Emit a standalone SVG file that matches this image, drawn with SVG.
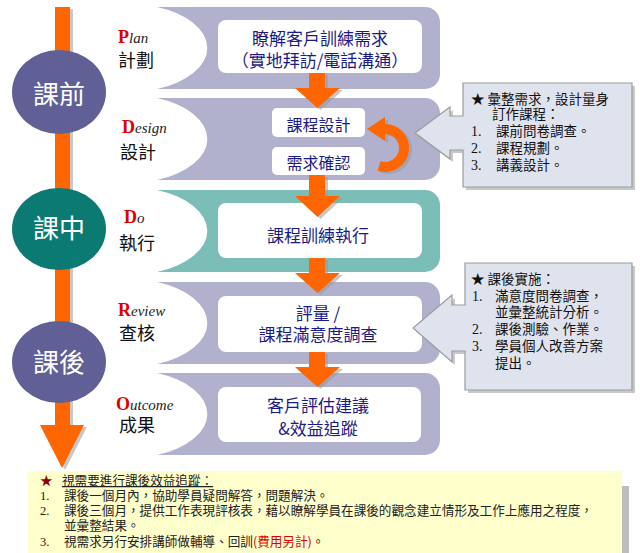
<svg xmlns="http://www.w3.org/2000/svg" width="640" height="553" viewBox="0 0 640 553">
<style>
.lav{fill:#b1b1cd}
.teal{fill:#7bbdb7}
.box{fill:#ffffff}
.nv{font-family:"Noto Sans CJK TC","Noto Sans CJK SC",sans-serif;font-size:17px;fill:#1b1b86;text-anchor:middle}
.lb{font-family:"Noto Sans CJK TC",sans-serif;font-size:18px;fill:#111}
.en{font-family:"Liberation Serif",serif;font-style:italic;font-size:15px;fill:#222}
.cap{font-family:"Liberation Serif",serif;font-style:normal;font-weight:bold;font-size:18px;fill:#e00000}
.ct{font-family:"Noto Sans CJK TC",sans-serif;font-size:26px;fill:#ffffff;text-anchor:middle}
.or{fill:#ff6600}
.sh{fill:#9a9a9a;opacity:0.55}
.co{fill:#dfe3ee;stroke:#9b9b9b;stroke-width:1.2}
.cot{font-family:"Noto Sans CJK TC",sans-serif;font-size:13.5px;fill:#111}
.num{font-family:"Liberation Serif",serif;font-size:14px}
.bt{font-family:"Noto Sans CJK TC",sans-serif;font-size:12.6px;fill:#222}
.bn{font-family:"Liberation Serif",serif;font-size:12.6px}
</style>

<!-- Bands -->
<g id="band-plan">
<path class="lav" d="M157,7 H425 A15,15 0 0 1 440,22 V74 A15,15 0 0 1 425,89 H157 A79,44 0 0 0 157,7 Z"/>
<rect class="box" x="218" y="20" width="204" height="53" rx="8"/>
<text class="nv"><tspan x="320" y="44.5">瞭解客戶訓練需求</tspan><tspan x="320" y="66.5">（實地拜訪/電話溝通）</tspan></text>
</g>
<g id="band-design">
<path class="lav" d="M157,98 H425 A15,15 0 0 1 440,113 V165 A15,15 0 0 1 425,180 H157 A79,44 0 0 0 157,98 Z"/>
<rect class="box" x="272" y="108" width="93" height="29" rx="5"/>
<rect class="box" x="272" y="147" width="93" height="28" rx="5"/>
<text class="nv" x="318.5" y="131" style="font-size:16px">課程設計</text>
<text class="nv" x="318.5" y="169" style="font-size:16px">需求確認</text>
</g>
<g id="band-do">
<path class="teal" d="M157,190 H425 A15,15 0 0 1 440,205 V257 A15,15 0 0 1 425,272 H157 A79,44 0 0 0 157,190 Z"/>
<rect class="box" x="218" y="203" width="204" height="55" rx="8"/>
<text class="nv" x="318" y="241.5">課程訓練執行</text>
</g>
<g id="band-review">
<path class="lav" d="M157,282 H425 A15,15 0 0 1 440,297 V349 A15,15 0 0 1 425,364 H157 A79,44 0 0 0 157,282 Z"/>
<rect class="box" x="218" y="296" width="204" height="56" rx="8"/>
<text class="nv"><tspan x="318" y="319.5">評量 /</tspan><tspan x="318" y="340.5">課程滿意度調查</tspan></text>
</g>
<g id="band-outcome">
<path class="lav" d="M157,373 H425 A15,15 0 0 1 440,388 V440 A15,15 0 0 1 425,455 H157 A79,44 0 0 0 157,373 Z"/>
<rect class="box" x="218" y="387" width="203" height="55" rx="8"/>
<text class="nv"><tspan x="318" y="411.5">客戶評估建議</tspan><tspan x="318" y="434.5">&amp;效益追蹤</tspan></text>
</g>

<!-- Connectors -->
<g id="connectors">
<g transform="translate(3,2)" class="sh">
<polygon points="309,73 325,73 325,88 340,88 317.5,108 295,88 309,88"/>
<polygon points="309,175 325,175 325,196 340,196 317.5,217 295,196 309,196"/>
<polygon points="309,258 325,258 325,273 340,273 317.5,293 295,273 309,273"/>
<polygon points="309,352 325,352 325,367 340,367 317.5,387 295,367 309,367"/>
<path d="M379,166 A19,19 0 1 0 384,129" fill="none" stroke="#9a9a9a" stroke-width="10"/>
<polygon points="367,129 385,117 385,141"/>
<polygon points="55,7 70,7 70,425 84,425 62,468 40,425 55,425"/>
</g>
<polygon class="or" points="309,73 325,73 325,88 340,88 317.5,108 295,88 309,88"/>
<polygon class="or" points="309,175 325,175 325,196 340,196 317.5,217 295,196 309,196"/>
<polygon class="or" points="309,258 325,258 325,273 340,273 317.5,293 295,273 309,273"/>
<polygon class="or" points="309,352 325,352 325,367 340,367 317.5,387 295,367 309,367"/>
<path d="M379,166 A19,19 0 1 0 384,129" fill="none" stroke="#ff6600" stroke-width="10"/>
<polygon class="or" points="367,129 385,117 385,141"/>
<polygon class="or" points="55,7 70,7 70,425 84,425 62,468 40,425 55,425"/>
</g>

<!-- Phase circles -->
<g id="phase-before">
<ellipse cx="59" cy="92" rx="47" ry="42" fill="#606096"/>
<text class="ct" x="59" y="104">課前</text>
</g>
<g id="phase-during">
<ellipse cx="59" cy="229" rx="47" ry="41" fill="#0b7a72"/>
<text class="ct" x="59" y="238">課中</text>
</g>
<g id="phase-after">
<ellipse cx="59" cy="362" rx="47" ry="41" fill="#606096"/>
<text class="ct" x="59" y="372">課後</text>
</g>

<!-- Left labels -->
<g id="label-plan">
<text class="en" x="118" y="43"><tspan class="cap">P</tspan>lan</text>
<text class="lb" x="118" y="67">計劃</text>
</g>
<g id="label-design">
<text class="en" x="122" y="133"><tspan class="cap">D</tspan>esign</text>
<text class="lb" x="120" y="159">設計</text>
</g>
<g id="label-do">
<text class="en" x="124" y="223"><tspan class="cap">D</tspan>o</text>
<text class="lb" x="119" y="250">執行</text>
</g>
<g id="label-review">
<text class="en" x="118" y="316"><tspan class="cap">R</tspan>eview</text>
<text class="lb" x="119" y="340">查核</text>
</g>
<g id="label-outcome">
<text class="en" x="116" y="410"><tspan class="cap">O</tspan>utcome</text>
<text class="lb" x="119" y="432">成果</text>
</g>

<!-- Callouts -->
<g id="callout-design">
<path class="sh" transform="translate(3,3)" d="M463,83 H632 V187 H463 V150 H450 V159 L415,133 L450,107 V116 H463 Z"/>
<path class="co" d="M463,83 H632 V187 H463 V150 H450 V159 L415,133 L450,107 V116 H463 Z"/>
<text class="cot"><tspan x="471" y="104">★ 彙整需求，設計量身</tspan><tspan x="492" y="119">訂作課程：</tspan><tspan class="num" x="471" y="136">1.</tspan><tspan x="496" y="136">課前問卷調查。</tspan><tspan class="num" x="471" y="153">2.</tspan><tspan x="496" y="153">課程規劃。</tspan><tspan class="num" x="471" y="170">3.</tspan><tspan x="496" y="170">講義設計。</tspan></text>
</g>
<g id="callout-review">
<path class="sh" transform="translate(3,3)" d="M465,263 H632 V390 H465 V351 H452 V362 L413,328 L452,295 V305 H465 Z"/>
<path class="co" d="M465,263 H632 V390 H465 V351 H452 V362 L413,328 L452,295 V305 H465 Z"/>
<text class="cot"><tspan x="471" y="284">★ 課後實施：</tspan><tspan class="num" x="472" y="301">1.</tspan><tspan x="495" y="301">滿意度問卷調查，</tspan><tspan x="495" y="317">並彙整統計分析。</tspan><tspan class="num" x="472" y="334">2.</tspan><tspan x="495" y="334">課後測驗、作業。</tspan><tspan class="num" x="472" y="351">3.</tspan><tspan x="495" y="351">學員個人改善方案</tspan><tspan x="495" y="368">提出。</tspan></text>
</g>

<!-- Bottom note -->
<g id="note-followup">
<rect x="622" y="486" width="7" height="67" fill="#bdbdbd"/>
<rect x="28" y="471" width="594" height="82" fill="#ffffcc"/>
<text class="bt"><tspan x="40" y="485" fill="#8b0000">★</tspan><tspan x="62" y="485" text-decoration="underline">視需要進行課後效益追蹤：</tspan><tspan class="bn" x="40" y="500">1.</tspan><tspan x="64" y="500">課後一個月內，協助學員疑問解答，問題解決。</tspan><tspan class="bn" x="40" y="515">2.</tspan><tspan x="64" y="515">課後三個月，提供工作表現評核表，藉以瞭解學員在課後的觀念建立情形及工作上應用之程度，</tspan><tspan x="64" y="530">並彙整結果。</tspan><tspan class="bn" x="40" y="546">3.</tspan><tspan x="64" y="546">視需求另行安排講師做輔導、回訓</tspan><tspan fill="#e00000">(費用另計)</tspan><tspan>。</tspan></text>
</g>
</svg>
